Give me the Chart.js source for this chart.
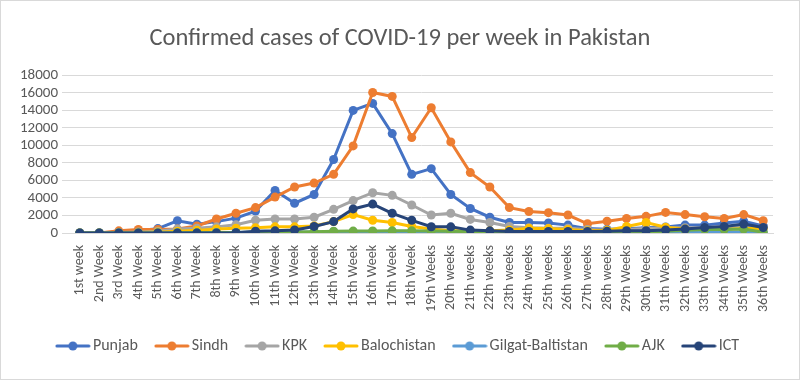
<!DOCTYPE html>
<html><head><meta charset="utf-8">
<script src="https://cdn.jsdelivr.net/npm/chart.js@4/dist/chart.umd.min.js"></script>
<style>
html,body{margin:0;padding:0;background:#fff;}
#wrap{position:relative;width:798px;height:378px;border:1px solid #d9d9d9;}
</style></head>
<body><div id="wrap"><canvas id="c" width="798" height="378"></canvas></div>
<script>
const categories = ["1st week","2nd Week","3rd Week","4th Week","5th Week","6th Week","7th Week","8th week","9th week","10th Week","11th Week","12th Week","13th Week","14th Week","15th Week","16th Week","17th Week","18th Week","19th Weeks","20th weeks","21th weeks","22th weeks","23th weeks","24th weeks","25th weeks","26th weeks","27th weeks","28th weeks","29th Weeks","30th Weeks","31th Weeks","32th Weeks","33th Weeks","34th Weeks","35th Weeks","36th Weeks"];
const punjab = [0,0,100,300,500,1400,1000,1300,1700,2500,4850,3400,4400,8400,14000,14800,11350,6700,7350,4400,2800,1800,1200,1200,1150,900,500,420,480,600,680,900,900,1150,1350,800];
const sindh = [0,0,250,400,400,450,800,1600,2250,2900,4100,5250,5700,6700,9950,16050,15600,10900,14300,10400,6900,5250,2900,2450,2320,2050,1050,1350,1650,1900,2350,2100,1850,1650,2100,1400];
const kpk = [0,0,50,100,200,450,550,700,950,1450,1600,1600,1800,2700,3700,4600,4300,3200,2050,2250,1550,1200,750,600,550,550,400,300,400,500,600,600,600,700,800,600];
const balochistan = [0,0,0,50,100,200,300,450,550,600,700,700,800,1300,2100,1450,1200,750,450,260,250,250,350,550,500,400,250,300,750,1200,650,450,450,400,500,500];
const gilgit = [0,0,0,0,0,20,30,50,60,80,100,100,120,150,150,150,150,150,100,100,80,80,70,70,60,60,60,60,60,80,80,100,100,120,120,100];
const ajk = [0,0,0,0,0,10,20,30,50,80,100,120,150,200,220,240,250,250,220,200,150,150,120,100,100,80,80,80,100,120,200,300,400,400,450,80];
const ict = [0,0,0,0,0,0,0,0,30,200,250,350,750,1300,2750,3300,2250,1450,720,700,330,250,180,180,180,180,180,200,260,260,340,450,630,750,1020,630];
const yTicks = [0,2000,4000,6000,8000,10000,12000,14000,16000,18000];

const seriesNames = ["Punjab","Sindh","KPK","Balochistan","Gilgat-Baltistan","AJK","ICT"];
const seriesData = [punjab,sindh,kpk,balochistan,gilgit,ajk,ict];
const colors = ["#4472C4","#ED7D31","#A5A5A5","#FFC000","#5B9BD5","#70AD47","#264478"];
const FONT = "Carlito, Calibri, Lato, 'Open Sans', sans-serif";

function legendIcon(color){
  const cv = document.createElement('canvas');
  cv.width = 36; cv.height = 12;
  const g = cv.getContext('2d');
  g.strokeStyle = color; g.lineWidth = 3; g.lineCap='round';
  g.beginPath(); g.moveTo(2,6); g.lineTo(34,6); g.stroke();
  g.fillStyle = color; g.beginPath(); g.arc(18,6,4.5,0,Math.PI*2); g.fill();
  return cv;
}

const datasets = seriesNames.map((n,i)=>({
  label:n, data:seriesData[i], borderColor:colors[i], backgroundColor:colors[i],
  borderWidth:3, pointRadius:4.5, pointHoverRadius:4.5, pointBorderWidth:0,
  tension:0, order:6-i
}));

new Chart(document.getElementById('c'), {
  type:'line',
  data:{labels:categories, datasets},
  options:{
    responsive:false, animation:false,
    layout:{padding:{left:12,right:12,top:0,bottom:15}},
    plugins:{
      tooltip:{enabled:false},
      title:{display:true,text:'Confirmed cases of COVID-19 per week in Pakistan',
        color:'#595959',font:{family:FONT,size:24.5,weight:'normal'},padding:{top:23,bottom:22}},
      legend:{position:'bottom',
        labels:{color:'#595959',font:{family:FONT,size:16},usePointStyle:true,pointStyleWidth:24,boxHeight:12,padding:22,
          sort:(a,b)=>a.datasetIndex-b.datasetIndex,
          generateLabels:(chart)=>chart.data.datasets.map((d,i)=>({
            text:d.label, fillStyle:d.borderColor, strokeStyle:d.borderColor, lineWidth:0,
            pointStyle:legendIcon(d.borderColor), datasetIndex:i, hidden:false, fontColor:'#595959'
          }))
        }}
    },
    scales:{
      x:{offset:true, grid:{display:false}, border:{color:'#d9d9d9'},
        ticks:{color:'#595959',font:{family:FONT,size:14},minRotation:90,maxRotation:90,autoSkip:false,padding:4},
        afterFit:(s)=>{s.height=83;}},
      y:{min:0,max:18000, afterBuildTicks:(s)=>{s.ticks=yTicks.map(v=>({value:v}));},
        grid:{color:'#d9d9d9',lineWidth:1}, border:{display:false},
        ticks:{color:'#595959',font:{family:FONT,size:15},padding:4,autoSkip:false,callback:(v)=>String(v)},
        afterFit:(s)=>{s.width=57;}},
      y2:{position:'right',min:0,max:1,grid:{display:false},border:{display:false},ticks:{display:false},
        afterFit:(s)=>{s.width=14;}}
    }
  }
});
</script></body></html>
